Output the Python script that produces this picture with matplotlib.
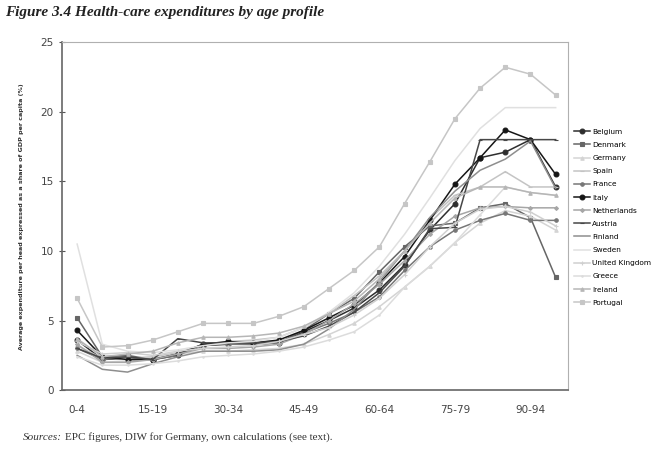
import matplotlib.pyplot as plt
import numpy as np

# age groups 0-4 ... 95-99
ages = ["%d-%d" % (a, a + 4) for a in range(0, 100, 5)]

belgium = [3.6, 2.2, 2.3, 2.2, 2.5, 3.2, 3.3, 3.3, 3.4, 4.2, 5.0, 5.9, 7.2, 9.0, 11.5, 13.4, 16.7, 17.1, 18.0, 14.6]
denmark = [5.2, 2.4, 2.5, 2.2, 2.6, 3.3, 3.3, 3.3, 3.4, 4.3, 5.5, 6.6, 8.5, 10.3, 11.8, 12.0, 13.1, 13.4, 12.4, 8.1]
germany = [2.8, 2.0, 2.1, 2.3, 2.6, 2.8, 2.8, 2.9, 3.0, 3.3, 4.0, 4.8, 6.0, 7.4, 8.9, 10.6, 12.0, 12.9, 12.5, 11.5]
spain = [3.2, 2.3, 2.3, 2.4, 2.7, 3.2, 3.5, 3.6, 3.8, 4.5, 5.5, 6.8, 8.2, 10.0, 12.3, 14.0, 14.6, 15.7, 14.6, 14.6]
france = [3.0, 2.2, 2.4, 2.2, 2.5, 3.3, 3.3, 3.3, 3.4, 4.1, 4.8, 5.6, 6.7, 8.6, 10.3, 11.5, 12.2, 12.7, 12.2, 12.2]
italy = [4.3, 2.4, 2.2, 2.2, 2.6, 3.3, 3.5, 3.4, 3.6, 4.3, 5.2, 6.1, 7.7, 9.6, 12.2, 14.8, 16.7, 18.7, 18.0, 15.5]
netherlands = [3.3, 2.0, 2.0, 2.2, 2.6, 3.0, 3.0, 3.1, 3.3, 4.0, 5.0, 6.2, 7.6, 9.3, 11.2, 12.5, 13.1, 13.2, 13.1, 13.1]
austria = [3.0, 2.3, 2.4, 2.2, 3.7, 3.4, 3.4, 3.4, 3.5, 3.9, 4.6, 5.6, 7.0, 8.9, 11.6, 11.7, 18.0, 18.0, 18.0, 18.0]
finland = [2.5, 1.5, 1.3, 1.9, 2.4, 2.8, 2.8, 2.8, 2.9, 3.3, 4.4, 5.8, 7.8, 10.0, 12.4, 14.3, 15.8, 16.6, 17.9, 14.5]
sweden = [10.5, 3.3, 2.8, 2.7, 2.9, 3.2, 3.4, 3.5, 3.8, 4.5, 5.6, 7.0, 8.9, 11.2, 13.8, 16.5, 18.8, 20.3, 20.3, 20.3]
uk = [3.5, 2.6, 2.7, 2.5, 2.8, 3.0, 3.1, 3.2, 3.5, 4.0, 4.5, 5.4, 6.6, 8.3, 10.3, 12.0, 13.0, 13.2, 12.8, 11.8]
greece = [2.4, 1.8, 1.8, 1.9, 2.1, 2.4, 2.5, 2.6, 2.8, 3.1, 3.6, 4.2, 5.4, 7.4, 8.9, 10.6, 12.6, 14.6, 14.2, 14.0]
ireland = [3.7, 2.4, 2.6, 2.8, 3.4, 3.8, 3.8, 3.9, 4.1, 4.6, 5.5, 6.4, 8.0, 10.0, 12.0, 13.8, 14.6, 14.6, 14.2, 14.0]
portugal = [6.6, 3.1, 3.2, 3.6, 4.2, 4.8, 4.8, 4.8, 5.3, 6.0, 7.3, 8.6, 10.3, 13.4, 16.4, 19.5, 21.7, 23.2, 22.7, 21.2]

countries = ["Belgium", "Denmark", "Germany", "Spain", "France", "Italy", "Netherlands",
             "Austria", "Finland", "Sweden", "United Kingdom", "Greece", "Ireland", "Portugal"]
series = [belgium, denmark, germany, spain, france, italy, netherlands,
          austria, finland, sweden, uk, greece, ireland, portugal]

# grey scale look of the scanned figure
styles = [
    ("#2e2e2e", "o", 3.5),
    ("#666666", "s", 3.5),
    ("#d4d4d4", "^", 2.5),
    ("#c4c4c4", "_", 3),
    ("#777777", "o", 2.5),
    ("#161616", "o", 3.5),
    ("#a6a6a6", "D", 2),
    ("#474747", "_", 3),
    ("#8e8e8e", "", 0),
    ("#e0e0e0", "", 0),
    ("#d0d0d0", "+", 3),
    ("#dcdcdc", ".", 2),
    ("#b6b6b6", "^", 2.5),
    ("#c6c6c6", "s", 2.5),
]

fig = plt.figure(figsize=(6.6, 4.49), dpi=100)
ax = fig.add_axes([0.094, 0.131, 0.767, 0.775])

x = np.arange(len(ages))
for name, vals, (col, mk, ms) in zip(countries, series, styles):
    ax.plot(x, vals, color=col, lw=1.1, marker=mk, ms=ms, mew=0.8,
            mfc=col, mec=col, label=name)

ax.set_xlim(-0.6, 19.5)
ax.set_ylim(0, 25)
ax.set_yticks([0, 5, 10, 15, 20, 25])
ax.set_xticks(x[::3])
ax.set_xticklabels(ages[::3])
ax.tick_params(axis="both", labelsize=7.5, colors="#555555", labelcolor="#444444")
ax.tick_params(axis="y", direction="inout", length=5)
ax.tick_params(axis="x", length=0, pad=11)
for s in ["top", "right"]:
    ax.spines[s].set_color("#b0b0b0")
for s in ["left", "bottom"]:
    ax.spines[s].set_color("#666666")
    ax.spines[s].set_linewidth(1.2)

ax.set_ylabel("Average expenditure per head expressed as a share of GDP per capita (%)",
              fontsize=4.6, fontweight="bold", color="#333333", labelpad=12)

ax.legend(loc="upper left", bbox_to_anchor=(1.005, 0.76), frameon=False,
          fontsize=5.3, handlelength=2.2, labelspacing=0.95, handletextpad=0.3,
          borderaxespad=0)

fig.text(0.008, 0.965, "Figure 3.4 Health-care expenditures by age profile",
         family="Liberation Serif", style="italic", fontweight="bold",
         fontsize=11, color="#222222")
fig.text(0.035, 0.02, "Sources:", family="Liberation Serif", style="italic",
         fontsize=8, color="#333333")
fig.text(0.098, 0.02, "EPC figures, DIW for Germany, own calculations (see text).",
         family="Liberation Serif", fontsize=8, color="#333333")

fig.savefig("out.png", dpi=100)
